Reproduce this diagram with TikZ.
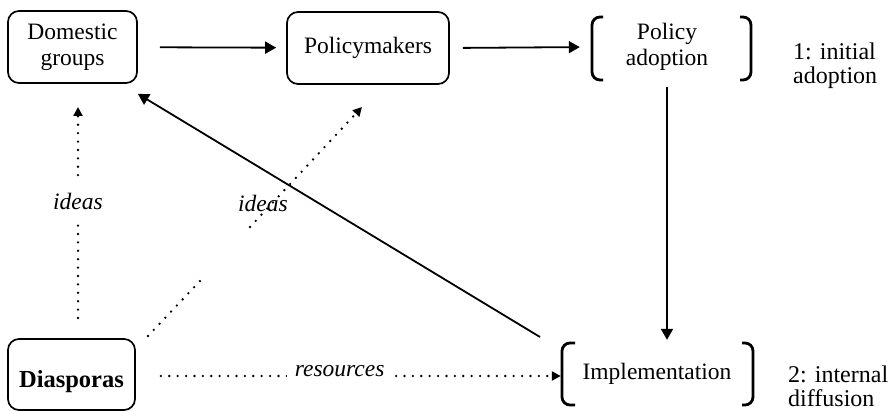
\documentclass[tikz,border=0pt]{standalone}
\usepackage{fontspec}
\setmainfont{Liberation Serif}
\usetikzlibrary{arrows.meta,calc}
\begin{document}
\begin{tikzpicture}[x=1pt,y=-1pt,
  txt/.style={font=\fontsize{23.5}{26}\selectfont},
  box/.style={txt,draw,line width=1.7pt,rounded corners=11pt,align=center,inner sep=0pt},
  lbl/.style={txt,align=center,inner sep=0pt},
  side/.style={font=\fontsize{24}{24}\selectfont,align=left,inner sep=0pt,anchor=west},
  it/.style={font=\fontsize{23.5}{26}\selectfont\itshape,inner sep=0pt},
  tip/.style={-{Triangle[length=11pt,width=12pt]}},
  stip/.style={-{Triangle[length=9pt,width=9pt]}},
  conn/.style={line width=1.8pt},
  dots/.style={line width=2.6pt,line cap=round,dash pattern=on 0pt off 8.4pt},
  brk/.style={line width=2.8pt,rounded corners=8pt}
]
\useasboundingbox (0,0) rectangle (893,411);

% nodes
\node[box,minimum width=129pt,minimum height=72pt] (dg) at (72.5,47) {Domestic\\groups};
\node[box,minimum width=162pt,minimum height=72pt] (pm) at (368,48) {Policymakers};
\node[box,minimum width=127pt,minimum height=71pt,font=\fontsize{24.5}{26}\selectfont\bfseries] (dias) at (71.5,374.5) {\raisebox{-13pt}[0pt][0pt]{Diasporas}};
\node[lbl,minimum width=150pt,minimum height=63pt] (pa) at (667,47) {Policy\\adoption};
\node[lbl,minimum width=150pt,minimum height=62pt] (impl) at (657,374) {Implementation};
\node[side] (l1) at (793,66) {1: initial\\adoption};
\node[side] (l2) at (788,386) {2: internal\\diffusion};

% brackets
\draw[brk] (603,17) -- (592,17) -- (592,80) -- (603,80);
\draw[brk] (740,17) -- (751,17) -- (751,80) -- (740,80);
\draw[brk] (575,343) -- (562,343) -- (562,405) -- (575,405);
\draw[brk] (742,343) -- (753,343) -- (753,405) -- (742,405);

% solid connectors
\draw[conn,tip,shorten <=22pt,shorten >=10pt] (dg) -- (pm);
\draw[conn,tip,shorten <=13pt,shorten >=12pt] (pm.east) -- (pa.west);
\draw[conn,tip,shorten <=8pt,shorten >=3pt] (pa.south) -- (pa.south |- impl.north);
\coordinate (s1) at (540,337);
\draw[conn,tip] (s1) -- ($(dg.south east)+(0,10)$);

% dotted connectors
\coordinate (v1) at (78,318);
\coordinate (v2) at (78,107);
\draw[dots,stip] (v1) -- node[it,fill=white,inner ysep=13pt,pos=0.55] {ideas} (v2);

\coordinate (q1) at (148,336);
\coordinate (q2) at (200,281);
\coordinate (q3) at (250,227);
\coordinate (q4) at (362,107);
\draw[dots] (q1) -- (q2);
\draw[dots,stip] (q3) -- (q4);
\node[it] (id2) at (263,203) {ideas};

\draw[dots,stip,shorten <=25pt,shorten >=21pt] (dias.east |- 0,376) -- node[it,fill=white,inner xsep=8pt,inner ysep=6pt,pos=0.457,yshift=5pt] {resources} (impl.west |- 0,376);
\end{tikzpicture}
\end{document}
